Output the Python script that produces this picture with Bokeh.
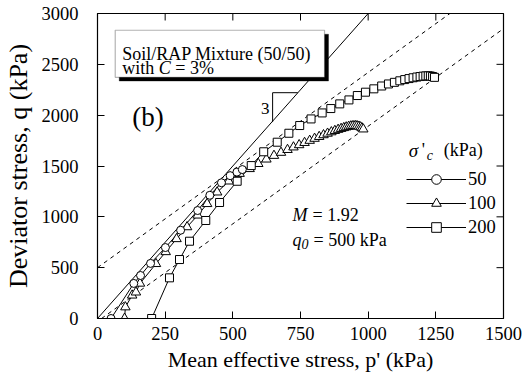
import math
from bokeh.plotting import figure
from bokeh.models import (Range1d, FixedTicker, Label, BoxAnnotation,
                          Legend, LegendItem)
from bokeh.embed import file_html
from bokeh.resources import INLINE

FONT = "Liberation Serif"

# ---- data ----
p50 = [50, 134, 159, 196, 251, 307, 370, 415, 458, 490, 515, 535]
q50 = [0, 345, 423, 542, 698, 868, 1062, 1212, 1335, 1405, 1440, 1465]

p100 = [100, 103, 128, 142, 157, 216, 252, 292, 331, 370, 405, 442, 485, 525, 562,
        594, 624, 652, 678, 702, 724, 745, 765, 784, 802, 819, 835, 850, 864, 877,
        889, 900, 910, 919, 928, 936, 944, 952, 959, 966, 972, 977, 982]
q100 = [0, 112, 228, 258, 345, 538, 655, 783, 900, 1015, 1128, 1242, 1350, 1425, 1472,
        1522, 1566, 1602, 1632, 1660, 1685, 1707, 1729, 1750, 1770, 1788, 1805, 1820, 1834, 1847,
        1858, 1867, 1875, 1882, 1888, 1892, 1895, 1896, 1894, 1889, 1882, 1873, 1862]

p200 = [200, 266, 303, 340, 400, 451, 516, 568, 614, 664, 707, 747, 789, 830, 862,
        895, 929, 960, 990, 1021, 1050, 1075, 1097, 1117, 1135, 1151, 1166, 1180, 1192, 1203,
        1213, 1222, 1230, 1238, 1245]
q200 = [0, 400, 580, 760, 964, 1141, 1350, 1504, 1640, 1734, 1822, 1898, 1963, 2022, 2065,
        2111, 2150, 2193, 2226, 2259, 2287, 2307, 2323, 2338, 2350, 2360, 2368, 2375, 2380, 2384,
        2386, 2387, 2385, 2380, 2372]

# reference lines
slope3_p = [0, 1000]
slope3_q = [0, 3000]
upper_cs_p = [0, 1302]
upper_cs_q = [500, 3000]
lower_cs_p = [15, 1500]
lower_cs_q = [0, 2851]
tri_p = [647, 647, 740]
tri_q = [1932, 2221, 2221]

x_ticks = [0, 250, 500, 750, 1000, 1250, 1500]
y_ticks = [0, 500, 1000, 1500, 2000, 2500, 3000]
legend_labels = ["50", "100", "200"]
X_MAX = 1500
Y_MAX = 3000

# ---- geometry helpers (picture pixels -> data) ----
FL, FR, FT, FB = 97.3, 502.7, 13.3, 317.7
def X(px):
    return (px - FL) / (FR - FL) * X_MAX
def Y(py):
    return (FB - py) / (FB - FT) * Y_MAX

p = figure(width=532, height=375, output_backend="svg", toolbar_location=None,
           x_range=Range1d(0, X_MAX), y_range=Range1d(0, Y_MAX),
           min_border_left=97, min_border_right=29, min_border_top=13, min_border_bottom=57)
p.xgrid.visible = False
p.ygrid.visible = False
p.outline_line_color = "black"
p.outline_line_width = 1.2
p.background_fill_color = "white"
p.border_fill_color = "white"

for ax, ticks in ((p.xaxis[0], x_ticks), (p.yaxis[0], y_ticks)):
    ax.ticker = FixedTicker(ticks=ticks)
    ax.major_tick_in = 7
    ax.major_tick_out = 0
    ax.minor_tick_in = 0
    ax.minor_tick_out = 0
    ax.axis_line_color = "black"
    ax.major_tick_line_color = "black"
    ax.major_label_text_font = FONT
    ax.major_label_text_font_size = "18.5px"
    ax.major_label_text_color = "black"
    ax.axis_label_text_font = FONT
    ax.axis_label_text_font_style = "normal"
    ax.axis_label_text_color = "black"
p.xaxis.major_label_standoff = 8
p.yaxis.major_label_standoff = 19
p.xaxis.axis_label = "Mean effective stress, p' (kPa)"
p.xaxis.axis_label_text_font_size = "22px"
p.xaxis.axis_label_standoff = 4
p.yaxis.axis_label = "Deviator stress, q (kPa)"
p.yaxis.axis_label_text_font_size = "26px"
p.yaxis.axis_label_standoff = 6

# inward ticks on the top and right edges (outer half is clipped by the frame)
p.scatter(x_ticks, [Y_MAX] * len(x_ticks), marker="dash", size=14, angle=math.pi / 2,
          line_color="black", line_width=1)
p.scatter([X_MAX] * len(y_ticks), y_ticks, marker="dash", size=14,
          line_color="black", line_width=1)

# reference lines
p.line(slope3_p, slope3_q, line_color="black", line_width=1)
p.line(upper_cs_p, upper_cs_q, line_color="black", line_width=1, line_dash="4 4")
p.line(lower_cs_p, lower_cs_q, line_color="black", line_width=1, line_dash="4 4")
p.line(tri_p, tri_q, line_color="black", line_width=1)

# data series
l200 = p.line(p200, q200, line_color="black", line_width=1)
l100 = p.line(p100, q100, line_color="black", line_width=1)
l50 = p.line(p50, q50, line_color="black", line_width=1)
s100 = p.scatter(p100, q100, marker="triangle", size=9.5, fill_color="white",
                 line_color="black", line_width=1)
s200 = p.scatter(p200, q200, marker="square", size=8, fill_color="white",
                 line_color="black", line_width=1)
s50 = p.scatter(p50, q50, marker="circle", size=8, fill_color="white",
                line_color="black", line_width=1)

legend = Legend(items=[LegendItem(label=legend_labels[0], renderers=[l50, s50]),
                       LegendItem(label=legend_labels[1], renderers=[l100, s100]),
                       LegendItem(label=legend_labels[2], renderers=[l200, s200])],
                location=(309, 79), orientation="vertical", glyph_width=60, glyph_height=24,
                label_height=24, label_standoff=2, spacing=0, padding=0, margin=0,
                border_line_color=None, background_fill_alpha=0,
                label_text_font=FONT, label_text_font_size="18.5px", label_text_color="black")
p.add_layout(legend)

# boxed title with shadow
p.add_layout(BoxAnnotation(left=X(119), right=X(328), top=Y(34), bottom=Y(80.7),
                           fill_color="black", fill_alpha=1, line_color="black", line_width=1))
p.add_layout(BoxAnnotation(left=X(115), right=X(324), top=Y(30), bottom=Y(77),
                           fill_color="white", fill_alpha=1, line_color="black", line_width=1.2))

def lab(px, py, text, size="18px", style="normal", align="left"):
    p.add_layout(Label(x=X(px), y=Y(py), text=text, text_font=FONT, text_font_size=size,
                       text_font_style=style, text_align=align, text_baseline="middle",
                       text_color="black", level="overlay"))

lab(122, 53.5, "Soil/RAP Mixture (50/50)")
lab(122, 68, "with")
lab(158.5, 68, "C", style="italic")
lab(175, 68, "= 3%")
lab(132, 117, "(b)", size="27px")
lab(260.5, 108.5, "3", size="17px")

lab(292, 214, "M", style="italic")
lab(312, 214, "= 1.92")
lab(292, 239, "q", style="italic")
lab(301, 243, "0", size="14px", style="italic")
lab(313, 239, "= 500 kPa")

lab(408, 150, "σ", style="italic", size="19px")
lab(421, 150, "'", size="18px")
lab(426, 155, "c", style="italic", size="14px")
lab(443, 150, "(kPa)")

open("out.html", "w").write(file_html(p, INLINE))
